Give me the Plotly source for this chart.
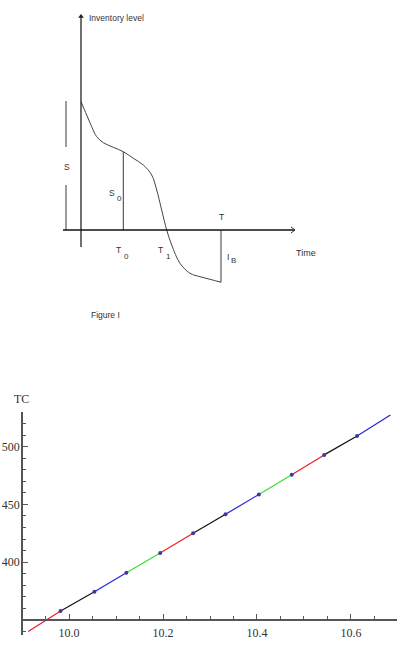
import plotly.graph_objects as go

W, H = 406, 652

# ---------- Top schematic (Figure I) ----------
curve_t = [0, 5.7, 10.7, 15.7, 22.3, 32.3, 42.3, 52.3, 62.3, 70.7, 75.7, 80.7,
           85.7, 90.7, 99, 109, 119, 129, 140]
curve_level = [128.3, 115, 103.3, 93.3, 87.3, 82.7, 78.3, 71.7, 65, 55, 40, 20,
               0, -15, -33.3, -43.3, -46.7, -49.3, -52.3]
T0_t, S0_level = 42.3, 78.3
T_t, IB_level = 140, -52.3
S_top, S_gap_top, S_gap_bot = 129, 83, 45
S_t = -15
time_axis = (-18, 214)
level_axis = (-17, 215)

# ---------- Bottom chart (TC) ----------
tc_x = [9.913, 9.982, 10.054, 10.122, 10.194, 10.264, 10.333, 10.404,
        10.474, 10.543, 10.613, 10.684]
tc_y = [340.0, 357.8, 374.4, 390.8, 408.0, 425.0, 441.4, 458.6,
        475.6, 492.8, 509.2, 527.3]
seg_colors = ["#e8202a", "#111111", "#2424d8", "#3adf2a"]
x_ticks = [10.0, 10.2, 10.4, 10.6]
x_ticklabels = ["10.0", "10.2", "10.4", "10.6"]
y_ticks = [400, 450, 500]

fig = go.Figure()

dark = "#3a3a3a"


def line(xs, ys, color=dark, width=1.0, shape="linear"):
    fig.add_trace(go.Scatter(x=xs, y=ys, mode="lines",
                             line=dict(color=color, width=width, shape=shape),
                             xaxis="x", yaxis="y", showlegend=False, hoverinfo="skip"))


# schematic curve
line(curve_t, curve_level, color="#444444", width=1, shape="spline")
line([T0_t, T0_t], [0, S0_level])
line([T_t, T_t], [IB_level, 0])
line([S_t, S_t, None, S_t, S_t], [S_top, S_gap_top, None, S_gap_bot, 0])
# axes
line([time_axis[0], time_axis[1]], [0, 0], color="#111111", width=1.5)
line([0, 0], [level_axis[0], level_axis[1]], color="#111111", width=1.2)
# open chevron on time axis
line([time_axis[1] - 4, time_axis[1], time_axis[1] - 4], [3, 0, -3], color="#333333", width=1)
# small filled arrowhead on level axis
fig.add_trace(go.Scatter(x=[0], y=[level_axis[1] - 1.5], mode="markers",
                         marker=dict(symbol="triangle-up", size=5, color="#222222"),
                         xaxis="x", yaxis="y", showlegend=False, hoverinfo="skip"))

# TC segments
for i in range(len(tc_x) - 1):
    fig.add_trace(go.Scatter(x=tc_x[i:i + 2], y=tc_y[i:i + 2], mode="lines",
                             line=dict(color=seg_colors[i % 4], width=1.2),
                             xaxis="x2", yaxis="y2", showlegend=False, hoverinfo="skip"))
fig.add_trace(go.Scatter(x=tc_x[1:-1], y=tc_y[1:-1], mode="markers",
                         marker=dict(color="#3b3b95", size=4),
                         xaxis="x2", yaxis="y2", showlegend=False, hoverinfo="skip"))

sans = "Liberation Sans"
tc_font = dict(family="Liberation Serif", size=12, color="#333333")
ann = []


def lab(text, x, y, size=8.5, xanchor="center"):
    ann.append(dict(text=text, x=x, y=y, xref="x", yref="y", showarrow=False,
                    font=dict(family=sans, size=size, color="#333333"),
                    xanchor=xanchor, yanchor="middle", borderpad=0))


def subscripted(main, s, x0, y_main, y_sub):
    lab(main, x0, y_main, xanchor="right")
    lab(s, x0 + 0.5, y_sub, size=8, xanchor="left")


lab("Inventory level", 7, 212, xanchor="left")
lab("S", -14, 63)
subscripted("S", "0", 34.5, 36.7, 31.2)
lab("T", 140.7, 12.7)
subscripted("T", "0", 41.0, -20, -26)
subscripted("T", "1", 83.3, -20, -26)
subscripted("I", "B", 148.6, -27.3, -30.5)
lab("Time", 225, -23, size=9)
lab("Figure I", 24, -85)

# TC label
ann.append(dict(text="TC", x=0.054, y=1 - 399 / H, xref="paper", yref="paper",
                showarrow=False, font=tc_font, xanchor="center", yanchor="middle"))

axis_col = "#555555"
fig.update_layout(
    width=W, height=H, margin=dict(l=0, r=0, t=0, b=0),
    paper_bgcolor="white", plot_bgcolor="rgba(0,0,0,0)",
    xaxis=dict(domain=[0, 1], range=[-81, 325], visible=False, fixedrange=True),
    yaxis=dict(domain=[1 - 330 / H, 1], range=[-100, 230], visible=False, fixedrange=True),
    xaxis2=dict(domain=[23 / W, 397 / W], range=[9.902, 10.698], anchor="free",
                position=1 - 620 / H, showline=True, linecolor=axis_col, linewidth=1.5,
                showgrid=False, zeroline=False, tickvals=x_ticks, ticktext=x_ticklabels,
                ticks="inside", ticklen=5, tickwidth=1, tickcolor=axis_col,
                minor=dict(dtick=0.05, tick0=10.0, ticks="inside", ticklen=3,
                           tickwidth=1, tickcolor=axis_col, showgrid=False),
                tickfont=tc_font, ticklabelstandoff=2, fixedrange=True),
    yaxis2=dict(domain=[1 - 635 / H, 1 - 412 / H], range=[337.0, 529.9], anchor="x2",
                showline=True, linecolor=axis_col, linewidth=1.5, showgrid=False,
                zeroline=False, tickvals=y_ticks, ticks="inside", ticklen=5,
                tickwidth=1, tickcolor=axis_col,
                minor=dict(dtick=10, tick0=0, ticks="inside", ticklen=3, tickwidth=1,
                           tickcolor=axis_col, showgrid=False),
                tickfont=tc_font, ticklabelstandoff=-1, fixedrange=True),
    annotations=ann,
)

fig.write_html("out.html")
